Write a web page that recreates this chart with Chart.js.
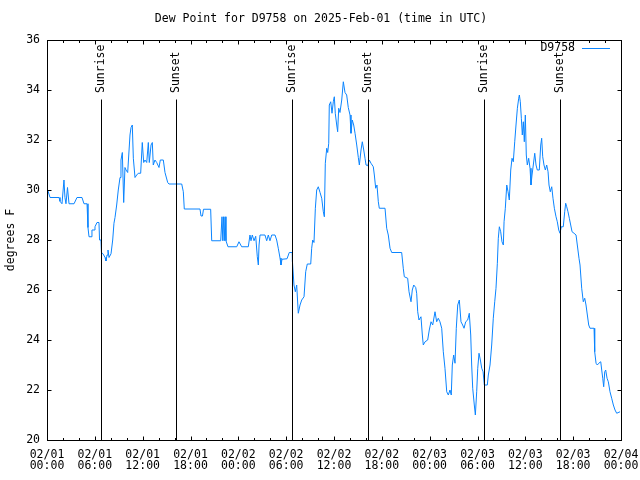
<!DOCTYPE html>
<html>
<head>
<meta charset="utf-8">
<script src="https://cdn.jsdelivr.net/npm/chart.js@4/dist/chart.umd.min.js"></script>
<style>
  html, body { margin: 0; padding: 0; background: #fff; }
  #wrap { width: 640px; height: 480px; }
</style>
</head>
<body>
<div id="wrap"><canvas id="c" width="640" height="480"></canvas></div>
<script>
// hours since 2025-02-01 00:00 UTC
const hours = [
  0.09, 0.38, 1.51, 1.63, 1.88, 2.13, 2.25, 2.38, 2.57, 2.76, 3.39, 3.76, 4.39, 4.64, 5.02, 5.14, 5.27, 5.52, 5.64, 5.90,
  6.02, 6.27, 6.52, 6.59, 6.77, 6.83, 7.02, 7.28, 7.40, 7.53, 7.65, 7.78, 8.03, 8.24, 8.40, 8.53, 8.74, 8.94, 9.16, 9.28,
  9.45, 9.62, 9.78, 9.91, 10.12, 10.41, 10.54, 10.70, 10.83, 11.04, 11.25, 11.45, 11.75, 11.95, 12.13, 12.29, 12.51, 12.71, 12.83, 13.05,
  13.21, 13.33, 13.54, 13.76, 14.05, 14.21, 14.59, 14.80, 15.14, 15.30, 16.90, 17.10, 17.22, 19.19, 19.32, 19.50, 19.63, 20.53, 20.66, 21.79,
  21.95, 22.05, 22.14, 22.24, 22.33, 22.45, 22.70, 23.80, 24.08, 24.42, 25.25, 25.46, 25.59, 25.75, 25.97, 26.18, 26.38, 26.51, 26.60, 26.72,
  27.34, 27.56, 27.76, 27.97, 28.19, 28.60, 28.81, 29.01, 29.23, 29.35, 29.48, 30.11, 30.39, 30.77, 30.79, 30.98, 31.15, 31.32, 31.52, 31.74,
  31.95, 32.24, 32.45, 32.65, 33.08, 33.20, 33.33, 33.49, 33.66, 33.83, 34.03, 34.25, 34.46, 34.66, 34.79, 34.91, 35.09, 35.21, 35.34, 35.41,
  35.59, 35.75, 35.91, 36.04, 36.16, 36.34, 36.46, 36.59, 36.75, 36.97, 37.17, 37.38, 37.59, 37.79, 38.01, 38.13, 38.29, 38.47, 38.64, 38.85,
  39.05, 39.18, 39.39, 39.55, 39.73, 39.89, 40.02, 40.23, 40.43, 40.64, 40.93, 41.06, 41.23, 41.39, 41.56, 41.68, 42.40, 42.61, 42.81, 43.03,
  43.24, 44.49, 44.69, 44.82, 45.24, 45.41, 45.66, 45.82, 46.00, 46.25, 46.37, 46.50, 46.66, 46.91, 47.08, 47.20, 47.42, 47.75, 47.95, 48.17,
  48.38, 48.67, 48.88, 49.08, 49.29, 49.51, 49.71, 49.92, 50.14, 50.34, 50.55, 50.71, 50.84, 51.01, 51.18, 51.34, 51.52, 51.72, 51.93, 52.14,
  52.31, 52.52, 52.77, 52.97, 53.15, 53.27, 53.40, 53.60, 53.73, 53.90, 54.03, 54.19, 54.36, 54.53, 54.70, 54.86, 55.23, 55.36, 55.57, 55.78,
  55.98, 56.16, 56.32, 56.49, 56.61, 56.74, 56.91, 57.07, 57.24, 57.33, 57.49, 57.67, 57.83, 57.99, 58.17, 58.33, 58.49, 58.67, 58.83, 59.00,
  59.17, 59.25, 59.37, 59.50, 59.62, 59.75, 59.87, 60.00, 60.12, 60.25, 60.42, 60.59, 60.71, 60.84, 61.00, 61.18, 61.34, 61.50, 61.75, 61.93,
  62.05, 62.18, 62.34, 62.51, 62.68, 62.85, 62.97, 63.13, 63.31, 63.47, 63.64, 63.85, 64.01, 64.19, 64.35, 64.51, 64.76, 64.94, 65.06, 65.19,
  65.35, 65.52, 65.69, 65.86, 66.11, 66.36, 66.52, 66.73, 66.86, 67.07, 67.27, 67.45, 67.61, 67.78, 67.95, 68.11, 68.62, 68.70, 68.87, 69.03,
  69.21, 69.46, 69.58, 69.71, 69.83, 69.96, 70.08, 70.25, 70.41, 70.62, 70.83, 71.04, 71.25, 71.46, 71.88
];

// dew point, degrees F
const dewPoint = [
  30.0, 29.7, 29.7, 29.55, 29.45, 30.4, 29.7, 29.45, 30.1, 29.45, 29.45, 29.7, 29.7, 29.45, 29.45, 28.5, 28.13, 28.13, 28.4, 28.4,
  28.53, 28.7, 28.7, 28.0, 28.0, 27.5, 27.45, 27.3, 27.16, 27.4, 27.6, 27.3, 27.45, 28.0, 28.67, 28.9, 29.4, 30.0, 30.5, 31.2,
  31.5, 29.5, 30.9, 30.8, 30.7, 32.2, 32.5, 32.6, 31.27, 30.5, 30.6, 30.67, 30.67, 31.9, 31.1, 31.2, 31.1, 31.9, 31.1, 31.8,
  31.9, 31.0, 31.2, 31.1, 30.9, 31.2, 31.2, 30.7, 30.3, 30.24, 30.24, 29.93, 29.24, 29.24, 28.96, 28.96, 29.23, 29.23, 27.97, 27.97,
  28.93, 27.97, 28.93, 27.97, 28.93, 27.97, 27.73, 27.73, 27.93, 27.73, 27.73, 28.2, 27.97, 28.2, 27.97, 28.15, 27.33, 27.0, 27.8, 28.2,
  28.2, 27.97, 28.2, 27.97, 28.2, 28.2, 28.0, 27.67, 27.28, 27.0, 27.23, 27.25, 27.5, 27.5, 27.13, 26.2, 25.93, 26.2, 25.07, 25.4,
  25.6, 25.73, 26.73, 27.04, 27.04, 27.67, 28.0, 27.9, 29.27, 30.0, 30.13, 29.9, 29.67, 29.13, 28.93, 31.07, 31.67, 31.5, 31.87, 33.4,
  33.53, 33.07, 33.53, 33.73, 33.07, 32.6, 32.33, 33.27, 33.1, 33.6, 34.33, 33.9, 33.8, 33.3, 33.0, 32.27, 32.8, 32.6, 32.27, 31.8,
  31.3, 31.0, 31.6, 31.93, 31.6, 31.27, 31.0, 30.97, 31.2, 31.07, 30.93, 30.6, 30.07, 30.2, 29.53, 29.27, 29.27, 28.47, 28.2, 27.67,
  27.5, 27.5, 26.87, 26.53, 26.47, 25.93, 25.53, 26.0, 26.2, 26.1, 25.87, 25.13, 24.8, 24.93, 24.2, 23.8, 23.93, 24.0, 24.4, 24.73,
  24.6, 25.13, 24.73, 24.87, 24.73, 24.47, 23.53, 22.87, 21.93, 21.8, 22.0, 21.8, 23.0, 23.4, 23.07, 24.47, 25.4, 25.6, 24.73, 24.6,
  24.47, 24.73, 24.8, 25.07, 24.2, 23.0, 22.07, 21.4, 21.0, 21.93, 22.87, 23.47, 23.2, 22.87, 22.73, 22.2, 22.2, 22.6, 23.0, 23.8,
  24.87, 25.53, 26.07, 27.07, 28.07, 28.53, 28.33, 27.93, 27.8, 28.73, 29.27, 30.2, 29.93, 29.6, 30.8, 31.27, 31.13, 31.93, 32.6, 33.27,
  33.67, 33.8, 33.53, 32.87, 32.2, 32.73, 31.93, 33.0, 31.4, 31.0, 31.27, 30.87, 30.2, 30.6, 31.0, 31.47, 31.0, 30.8, 30.8, 31.8,
  32.07, 31.33, 31.0, 30.8, 31.0, 30.73, 30.2, 29.93, 30.13, 29.67, 29.27, 28.93, 28.73, 28.4, 28.27, 28.53, 28.53, 29.13, 29.47, 29.33,
  29.13, 28.87, 28.6, 28.33, 28.27, 28.2, 27.8, 27.27, 27.0, 26.07, 25.53, 25.67, 25.4, 25.0, 24.6, 24.47, 24.47, 23.53, 23.07, 23.0,
  23.07, 23.13, 22.8, 22.47, 22.13, 22.73, 22.8, 22.47, 22.33, 21.93, 21.67, 21.4, 21.2, 21.07, 21.13
];

const sunHours = [6.82, 16.22, 30.77, 40.30, 54.85, 64.39];
const sunLabels = ["Sunrise", "Sunset", "Sunrise", "Sunset", "Sunrise", "Sunset"];

const xTickDates = ["02/01", "02/01", "02/01", "02/01", "02/02", "02/02", "02/02", "02/02", "02/03", "02/03", "02/03", "02/03", "02/04"];
const xTickTimes = ["00:00", "06:00", "12:00", "18:00", "00:00", "06:00", "12:00", "18:00", "00:00", "06:00", "12:00", "18:00", "00:00"];

const titleText = "Dew Point for D9758 on 2025-Feb-01 (time in UTC)";
const seriesName = "D9758";
const lineColor = "#0a84ff";
const FONT = '"DejaVu Sans Mono", "Liberation Mono", monospace';

const points = hours.map((h, i) => ({ x: h, y: dewPoint[i] }));

// gnuplot-like frame, inward ticks, sun markers, title and legend
const gnuFrame = {
    id: "gnuFrame",
    afterDatasetsDraw(chart) {
        const { ctx, chartArea: a, scales } = chart;
        const xs = scales.x, ys = scales.y;
        const L = Math.round(a.left) + 0.5, R = Math.round(a.right) + 0.5;
        const T = Math.round(a.top) + 0.5, B = Math.round(a.bottom) + 0.5;
        ctx.save();
        ctx.strokeStyle = "#000";
        ctx.lineWidth = 1;

        // sunrise / sunset lines
        const yStart = ys.getPixelForValue(33.62);
        sunHours.forEach((h) => {
            const px = Math.round(xs.getPixelForValue(h)) + 0.5;
            ctx.beginPath();
            ctx.moveTo(px, yStart);
            ctx.lineTo(px, B);
            ctx.stroke();
        });

        ctx.beginPath();
        // x ticks, major every 6 h, minor every 2 h, bottom and top
        for (let h = 0; h <= 72; h += 2) {
            const px = Math.round(xs.getPixelForValue(h)) + 0.5;
            const len = h % 6 === 0 ? 4 : 2.5;
            ctx.moveTo(px, B); ctx.lineTo(px, B - len);
            ctx.moveTo(px, T); ctx.lineTo(px, T + len);
        }
        // y ticks, left and right
        for (let v = 20; v <= 36; v += 2) {
            const py = Math.round(ys.getPixelForValue(v)) + 0.5;
            ctx.moveTo(L, py); ctx.lineTo(L + 4, py);
            ctx.moveTo(R, py); ctx.lineTo(R - 4, py);
        }
        ctx.stroke();
        ctx.strokeRect(L, T, R - L, B - T);

        // sun labels
        ctx.fillStyle = "#000";
        ctx.font = "11.5px " + FONT;
        ctx.textAlign = "left";
        ctx.textBaseline = "middle";
        sunHours.forEach((h, i) => {
            const px = xs.getPixelForValue(h);
            ctx.save();
            ctx.translate(px, 93);
            ctx.rotate(-Math.PI / 2);
            ctx.fillText(sunLabels[i], 0, 0);
            ctx.restore();
        });

        // title
        ctx.textAlign = "center";
        ctx.fillText(titleText, 321, 19);

        // legend
        ctx.textAlign = "right";
        ctx.fillText(seriesName, 575, 48);
        ctx.strokeStyle = lineColor;
        ctx.beginPath();
        ctx.moveTo(582, 48.5);
        ctx.lineTo(610, 48.5);
        ctx.stroke();
        ctx.restore();
    },
};

new Chart(document.getElementById("c"), {
    type: "line",
    data: {
        datasets: [{
            label: seriesName,
            data: points,
            borderColor: lineColor,
            borderWidth: 1,
            pointRadius: 0,
            tension: 0,
            fill: false,
        }],
    },
    options: {
        responsive: false,
        animation: false,
        layout: { padding: { top: 40, right: 19, left: 0, bottom: 0 } },
        plugins: {
            legend: { display: false },
            tooltip: { enabled: false },
        },
        scales: {
            x: {
                type: "linear",
                min: 0,
                max: 72,
                afterFit: (s) => {
                    s.height = 40;
                    s.paddingLeft = 0;
                    s.paddingRight = 0;
                },
                grid: { display: false, drawTicks: false },
                border: { display: false },
                ticks: {
                    stepSize: 6,
                    autoSkip: false,
                    maxRotation: 0,
                    padding: 9,
                    color: "#000",
                    font: { family: FONT, size: 11.5, lineHeight: 1.0 },
                    callback: (v) => {
                        const i = Math.round(v / 6);
                        return [xTickDates[i], xTickTimes[i]];
                    },
                },
            },
            y: {
                min: 20,
                max: 36,
                afterFit: (s) => {
                    s.width = 47;
                    s.paddingTop = 0;
                    s.paddingBottom = 0;
                },
                grid: { display: false, drawTicks: false },
                border: { display: false },
                title: {
                    display: true,
                    text: "degrees F",
                    color: "#000",
                    font: { family: FONT, size: 11.5 },
                },
                ticks: {
                    stepSize: 2,
                    padding: 7,
                    color: "#000",
                    font: { family: FONT, size: 11.5 },
                },
            },
        },
    },
    plugins: [gnuFrame],
});
</script>
</body>
</html>
